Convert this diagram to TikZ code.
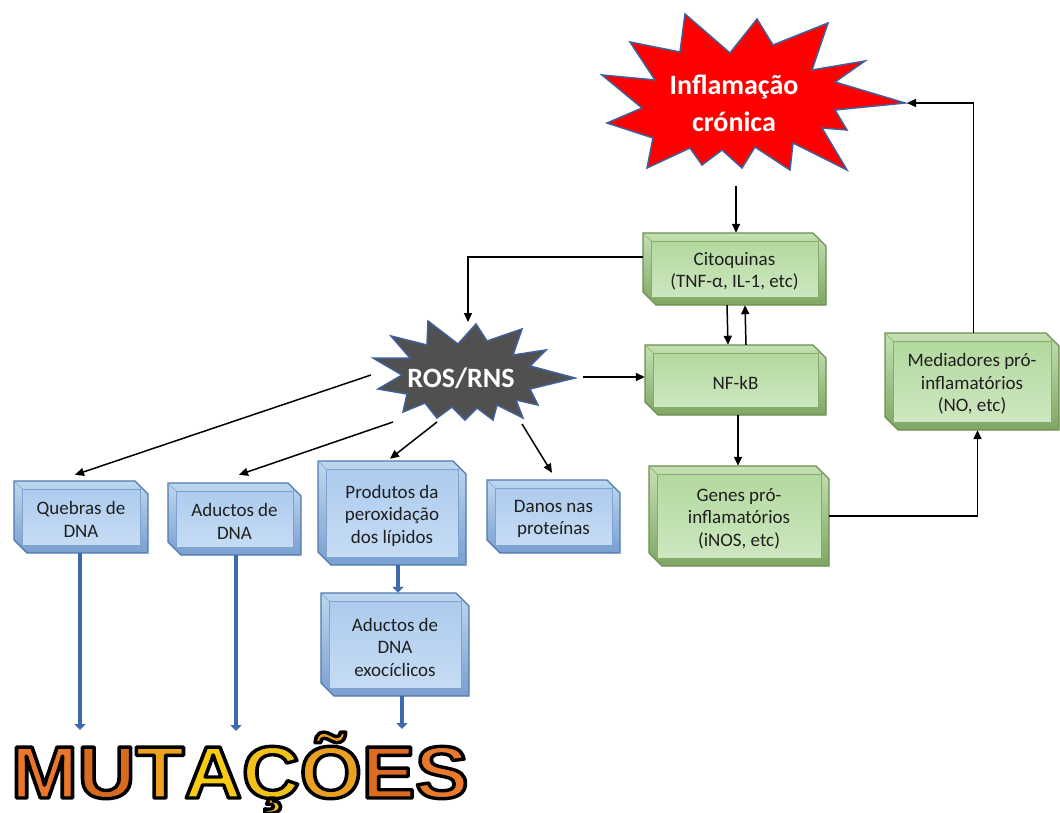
\documentclass[tikz,border=0pt]{standalone}
\usepackage{fontspec}
\setmainfont{Carlito}
\newfontfamily\mutfont{Liberation Sans}
\usetikzlibrary{arrows.meta}
\definecolor{Gedge}{HTML}{6C8E4E}
\definecolor{Gbandt}{HTML}{C5E0B4}
\definecolor{Gbandb}{HTML}{7FA664}
\definecolor{Gfacet}{HTML}{B3D99E}
\definecolor{Gfaceb}{HTML}{CDE7C0}
\definecolor{Gline}{HTML}{86AC6C}
\definecolor{Bedge}{HTML}{4F78AE}
\definecolor{Bbandt}{HTML}{BDD7EE}
\definecolor{Bbandb}{HTML}{7A9FD0}
\definecolor{Bfacet}{HTML}{ADCBEE}
\definecolor{Bfaceb}{HTML}{C6DCF4}
\definecolor{Bline}{HTML}{7FA3D0}
\definecolor{starEdge}{HTML}{41609A}
\definecolor{rosFill}{HTML}{505050}
\definecolor{blueArr}{HTML}{3E68B0}
\definecolor{mM}{HTML}{E9762B}
\definecolor{mU}{HTML}{D86A1E}
\definecolor{mT}{HTML}{EBA21E}
\definecolor{mA}{HTML}{F7CB12}
\definecolor{mC}{HTML}{F3C21A}
\definecolor{mO}{HTML}{E9A020}
\definecolor{mE}{HTML}{DC6A20}
\definecolor{mS}{HTML}{E97A2C}
\newcommand\bevbox[7]{%
  \path[draw=#6edge, line width=1.2pt, top color=#6bandt, bottom color=#6bandb]
    (#2,#3) -- ({#4-13},#3) -- (#4,{#3+13}) -- (#4,#5) -- ({#2+13},#5) -- (#2,{#5-13}) -- cycle;
  \draw[#6line, line width=0.6pt] (#2,#3) -- ({#2+8},{#3+8})
    ({#4-8},{#3+8}) -- ({#4-7},{#3+7}) ({#4-8},{#5-8}) -- (#4,#5)
    ({#2+8},{#5-8}) -- ({#2+7},{#5-7});
  \path[draw=#6line, line width=0.8pt, top color=#6facet, bottom color=#6faceb]
    ({#2+8},{#3+8}) rectangle ({#4-8},{#5-8});
  \node[inner sep=0pt, minimum width={#4-#2}, minimum height={#5-#3}] (#1) at ({(#2+#4)/2},{(#3+#5)/2}) {};
  \node[boxtext] at ([yshift=-2.5pt]#1.center) {#7};
}
\newcommand\strk{\special{pdf:literal direct 0 0 0 RG}}
\newcommand\mlet[2]{\textcolor{#1}{\strk #2}}
\begin{document}
\begin{tikzpicture}[x=1pt,y=-1pt,
  conn/.style={line width=1.5pt, -{Triangle[length=9pt,width=8pt]}},
  bconn/.style={line width=4pt, draw=blueArr, -{Triangle[length=6pt,width=11pt]}},
  boxtext/.style={font=\fontsize{19}{22.5}\selectfont, align=center, text=black!88, inner sep=0pt},
  startext/.style={font=\bfseries\fontsize{28}{37}\selectfont, align=center, text=white, inner sep=0pt},
  mutstyle/.style={font=\mutfont\bfseries\fontsize{74}{74}\selectfont, inner sep=0pt, anchor=base west, xscale=1.08, transform shape}]
\useasboundingbox[fill=white] (0,0) rectangle (1060,813);

% Inflamacao star
\draw[fill=red, draw=starEdge, line width=1.5pt, line join=miter]
  (602,75) -- (655,80) -- (630,42) -- (680,52) -- (685,14) -- (730,53) -- (757,19) -- (773,45)
  -- (828,23) -- (812,70) -- (865,61) -- (835,82) -- (905,103) -- (835,110) -- (847,130)
  -- (822,128) -- (847,170) -- (793,143) -- (790,170) -- (755,147) -- (742,168) -- (722,150)
  -- (702,165) -- (690,148) -- (647,168) -- (653,138) -- (607,123) -- (642,108) -- cycle;
\node[startext] (infl) at (734,103) {Inflamação\\crónica};

% ROS star
\draw[fill=rosFill, draw=starEdge, line width=1.5pt, line join=miter]
  (373,358) -- (410,358) -- (391,336) -- (427,345) -- (428,321) -- (458,344) -- (476,324)
  -- (487,341) -- (522,329) -- (513,355) -- (546,350) -- (530,366) -- (575,378) -- (530,389)
  -- (538,405) -- (516,400) -- (523,418) -- (497,405) -- (493,420) -- (477,408) -- (465,420)
  -- (452,407) -- (437,418) -- (425,403) -- (403,412) -- (407,394) -- (378,389) -- (402,375) -- cycle;
\node[startext] (ros) at (461,378) {ROS/RNS};

% boxes
\bevbox{cito}{643}{233}{826}{305}{G}{Citoquinas\\(TNF-α, IL-1, etc)}
\bevbox{nfkb}{645}{345}{826}{415}{G}{NF-kB}
\bevbox{genes}{649}{466}{829}{566}{G}{Genes pró-\\inflamatórios\\(iNOS, etc)}
\bevbox{med}{885}{333}{1059}{430}{G}{Mediadores pró-\\inflamatórios\\(NO, etc)}
\bevbox{queb}{14}{481}{148}{553}{B}{Quebras de\\DNA}
\bevbox{adu}{168}{483}{301}{555}{B}{Aductos de\\DNA}
\bevbox{prod}{318}{461}{466}{565}{B}{Produtos da\\peroxidação\\dos lípidos}
\bevbox{exo}{321}{593}{469}{696}{B}{Aductos de\\DNA\\exocíclicos}
\bevbox{danos}{487}{480}{620}{553}{B}{Danos nas\\proteínas}

% MUTACOES (filled letters with black stroke, text render mode 2)
\node[mutstyle] (mut) at (11,798) {\special{pdf:literal direct 2 Tr 3.4 w 1 j}\mlet{mM}{M}\mlet{mU}{U}\mlet{mT}{T}\mlet{mA}{A}\mlet{mC}{Ç}\mlet{mO}{Õ}\mlet{mE}{E}\mlet{mS}{S}\special{pdf:literal direct 0 Tr}};

% coordinates for free ends
\coordinate (inflS) at (736,186);
\coordinate (inflE) at (907,103);
\coordinate (rosN) at (468,322);
\coordinate (rosE) at (583,377);
\coordinate (rosW1) at (371,375);
\coordinate (rosW2) at (393,422);
\coordinate (rosS1) at (437,422);
\coordinate (rosS2) at (522,424);
\coordinate (m1) at (80,730);
\coordinate (m2) at (236,731);
\coordinate (m3) at (402,729);

% black connectors
\draw[conn] (inflS) -- (inflS |- cito.north);
\draw[conn] ([yshift=12pt]cito.west) -| (rosN);
\draw[conn] ([xshift=-7.5pt]cito.south) -- ([xshift=-7.5pt]nfkb.north);
\draw[conn] ([xshift=10.5pt]nfkb.north) -- ([xshift=10.5pt]cito.south);
\draw[conn] (rosE) -- (rosE -| nfkb.west);
\draw[conn] ([xshift=2.5pt]nfkb.south) -- ([xshift=2.5pt]nfkb.south |- genes.north);
\draw[conn] (genes.east) -| ([xshift=5.5pt]med.south);
\draw[conn] ([xshift=1.5pt]med.north) |- (inflE);
\draw[conn] (rosW1) -- ([xshift=-6pt,yshift=6pt]queb.north);
\draw[conn] (rosW2) -- ([xshift=4.5pt,yshift=8pt]adu.north);
\draw[conn] (rosS1) -- ([xshift=-2pt,yshift=2pt]prod.north);
\draw[conn] (rosS2) -- ([xshift=-1.5pt,yshift=7pt]danos.north);

% blue connectors
\draw[bconn] (queb.south -| m1) -- (m1);
\draw[bconn] (adu.south -| m2) -- (m2);
\draw[bconn] ([xshift=6pt]prod.south) -- ([xshift=6pt]prod.south |- exo.north);
\draw[bconn] (exo.south -| m3) -- (m3);
\end{tikzpicture}
\end{document}
